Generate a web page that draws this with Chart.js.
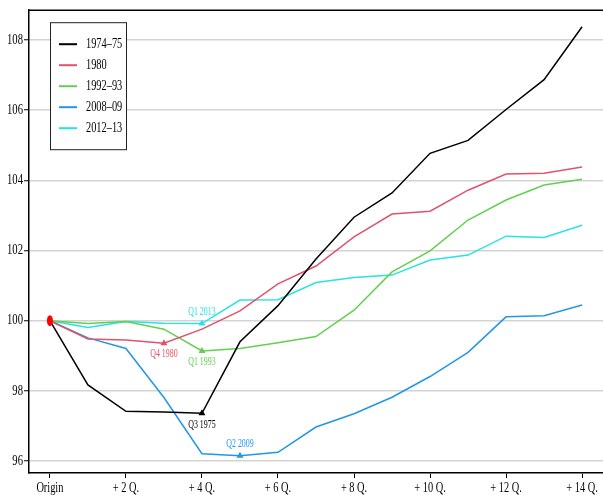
<!DOCTYPE html>
<html>
<head>
<meta charset="utf-8">
<script src="https://cdn.jsdelivr.net/npm/chart.js@4/dist/chart.umd.min.js"></script>
<style>
  html, body { margin: 0; padding: 0; background: #fff; overflow: hidden; }
  canvas { display: block; }
</style>
</head>
<body>
<canvas id="chart" width="603" height="495"></canvas>
<script>
const quarters = [0, 1, 2, 3, 4, 5, 6, 7, 8, 9, 10, 11, 12, 13, 14]
const xTickValues = [0, 2, 4, 6, 8, 10, 12, 14]
const yTickValues = [96, 98, 100, 102, 104, 106, 108]

const seriesNames = ['1974–75', '1980', '1992–93', '2008–09', '2012–13']
const seriesColors = ['#000000', '#DF536B', '#61D04F', '#2297E6', '#28E2E5']

const s1974 = [100, 98.17, 97.42, 97.40, 97.36, 99.40, 100.43, 101.76, 102.95, 103.64, 104.77, 105.14, 106.02, 106.87, 108.38]
const s1980 = [100, 99.48, 99.45, 99.36, 99.76, 100.28, 101.05, 101.56, 102.39, 103.04, 103.12, 103.72, 104.18, 104.20, 104.38]
const s1992 = [100, 99.92, 99.98, 99.76, 99.14, 99.21, 99.37, 99.55, 100.30, 101.39, 101.99, 102.87, 103.44, 103.87, 104.03]
const s2008 = [100, 99.51, 99.21, 97.81, 96.21, 96.15, 96.25, 96.97, 97.35, 97.82, 98.41, 99.10, 100.11, 100.14, 100.45]
const s2012 = [100, 99.81, 99.98, 99.93, 99.92, 100.59, 100.60, 101.09, 101.23, 101.30, 101.73, 101.87, 102.41, 102.37, 102.72]

// trough marker per series: index into quarters, label, and where the label sits
const troughIndex = [4, 3, 4, 5, 4]
const troughLabels = ['Q3 1975', 'Q4 1980', 'Q1 1993', 'Q2 2009', 'Q1 2013']
const troughLabelSide = ['below', 'below', 'below', 'above', 'above']

const allSeries = [s1974, s1980, s1992, s2008, s2012]
const FONT = '"Liberation Serif", "Times New Roman", serif'

// narrow serif text: the original uses a condensed Times face
function narrowText(ctx, text, x, y, size, squeeze, align) {
  ctx.save()
  ctx.font = size + 'px ' + FONT
  ctx.textBaseline = 'middle'
  ctx.textAlign = align
  ctx.translate(x, y)
  ctx.scale(squeeze, 1)
  ctx.fillText(text, 0, 0)
  ctx.restore()
}

const datasets = allSeries.map((values, i) => ({
  label: seriesNames[i],
  data: quarters.map((q, j) => ({ x: q, y: values[j] })),
  borderColor: seriesColors[i],
  backgroundColor: seriesColors[i],
  borderWidth: 1.5,
  tension: 0,
  pointStyle: 'triangle',
  pointRadius: (ctx) => (ctx.dataIndex === troughIndex[i] ? 4 : 0),
  pointBorderWidth: 0,
}))

// the origin marker (drawn as an ellipse by the plugin below)
datasets.push({
  label: 'origin',
  data: [{ x: quarters[0], y: s1974[0] }],
  pointRadius: 0,
  showLine: false,
})

const decor = {
  id: 'decor',
  afterDraw(chart) {
    const { ctx, chartArea, scales } = chart
    ctx.save()
    // top frame line
    ctx.strokeStyle = '#000'
    ctx.lineWidth = 1.5
    ctx.beginPath()
    ctx.moveTo(chartArea.left, chartArea.top)
    ctx.lineTo(chartArea.right, chartArea.top)
    ctx.stroke()

    // tick labels
    ctx.fillStyle = '#000'
    yTickValues.forEach((v) => {
      narrowText(ctx, String(v), scales.y.left + 23, scales.y.getPixelForValue(v), 14, 0.76, 'right')
    })
    xTickValues.forEach((v) => {
      const label = v === 0 ? 'Origin' : '+ ' + v + ' Q.'
      narrowText(ctx, label, scales.x.getPixelForValue(v), scales.x.top + 15, 14, 0.74, 'center')
    })

    // trough labels
    troughIndex.forEach((idx, i) => {
      const pt = chart.getDatasetMeta(i).data[idx]
      ctx.fillStyle = seriesColors[i]
      const dy = troughLabelSide[i] === 'below' ? 11 : -12
      narrowText(ctx, troughLabels[i], pt.x, pt.y + dy, 12, 0.66, 'center')
    })

    // origin marker
    const o = chart.getDatasetMeta(allSeries.length).data[0]
    ctx.fillStyle = '#ff0000'
    ctx.beginPath()
    ctx.ellipse(o.x, o.y, 3, 5.5, 0, 0, Math.PI * 2)
    ctx.fill()

    // legend box
    const x0 = chartArea.left + 21
    const y0 = chartArea.top + 12
    ctx.fillStyle = '#fff'
    ctx.fillRect(x0, y0, 76, 127)
    ctx.strokeStyle = '#222'
    ctx.lineWidth = 1
    ctx.strokeRect(x0 + 0.5, y0 + 0.5, 76, 127)
    seriesNames.forEach((name, i) => {
      const y = y0 + 22 + i * 21
      ctx.strokeStyle = seriesColors[i]
      ctx.lineWidth = 2
      ctx.beginPath()
      ctx.moveTo(x0 + 9, y)
      ctx.lineTo(x0 + 27, y)
      ctx.stroke()
      ctx.fillStyle = '#000'
      narrowText(ctx, name, x0 + 36, y, 15, 0.69, 'left')
    })
    ctx.restore()
  },
}

new Chart(document.getElementById('chart'), {
  type: 'line',
  data: { datasets },
  options: {
    responsive: false,
    animation: false,
    layout: { padding: { top: 8, right: 0, bottom: 0, left: 0 } },
    plugins: {
      legend: { display: false },
      tooltip: { enabled: false },
    },
    scales: {
      x: {
        type: 'linear',
        min: -0.55,
        max: 14.55,
        afterBuildTicks: (scale) => { scale.ticks = xTickValues.map((v) => ({ value: v })) },
        afterFit: (scale) => { scale.height = 22 },
        grid: { drawOnChartArea: false, drawTicks: true, tickLength: 5, tickColor: '#000', tickWidth: 1 },
        border: { display: true, color: '#000', width: 1.5 },
        ticks: { color: 'rgba(0,0,0,0)', maxRotation: 0, font: { family: FONT, size: 12 } },
      },
      y: {
        min: 95.66,
        max: 108.85,
        afterBuildTicks: (scale) => { scale.ticks = yTickValues.map((v) => ({ value: v })) },
        afterFit: (scale) => { scale.width = 29 },
        grid: { color: '#d3d3d3', lineWidth: 1.5, drawTicks: true, tickLength: 5, tickColor: '#000', tickWidth: 1 },
        border: { display: true, color: '#000', width: 1.5 },
        ticks: { color: 'rgba(0,0,0,0)', font: { family: FONT, size: 12 } },
      },
    },
  },
  plugins: [decor],
})
</script>
</body>
</html>
